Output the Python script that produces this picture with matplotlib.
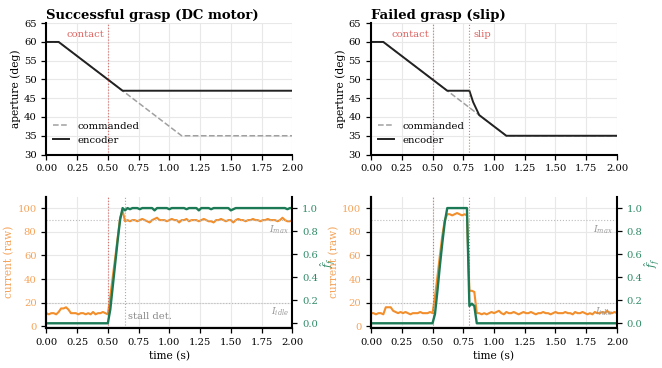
import numpy as np
import matplotlib
matplotlib.use("Agg")
import matplotlib.pyplot as plt

plt.rcParams["font.family"] = "DejaVu Serif"
plt.rcParams["mathtext.fontset"] = "dejavuserif"
plt.rcParams["font.size"] = 7.2

# aperture traces (breakpoints, s / deg)
cmd_t = [0.0, 0.1, 1.1, 2.0]
cmd_a = [60, 60, 35, 35]
enc_ok_t = [0.0, 0.1, 0.62, 2.0]
enc_ok_a = [60, 60, 47, 47]
enc_slip_t = [0.0, 0.1, 0.62, 0.80, 0.83, 0.88, 1.1, 2.0]
enc_slip_a = [60, 60, 47, 47, 44, 40.5, 35, 35]

# current / force estimate, sampled every 0.02 s
t = np.arange(101) * 0.02
cur_ok = [11, 10, 11, 11, 10, 12, 15, 15, 16, 14, 11, 11, 11, 10, 11, 11, 10, 11, 10, 12,
          10, 11, 11, 12, 11, 10, 25, 42, 58, 75, 92, 98, 89, 90, 89, 90, 90, 89, 90, 91,
          90, 89, 88, 90, 91, 92, 90, 90, 90, 89, 90, 91, 90, 90, 88, 90, 90, 91, 89, 90,
          90, 90, 89, 90, 91, 90, 89, 89, 88, 90, 90, 91, 90, 89, 90, 90, 88, 90, 91, 90,
          90, 89, 90, 90, 91, 90, 90, 89, 90, 90, 91, 90, 90, 90, 89, 90, 92, 90, 89, 89, 90]
ff_ok = [0.0] * 26 + [0.12, 0.32, 0.52, 0.72, 0.9, 1.0, 0.98,
         1.0, 0.99, 1.0, 1.0, 1.0, 0.99, 1.0, 1.0, 1.0, 1.0, 1.0, 0.98, 1.0, 1.0, 1.0,
         1.0, 1.0, 0.99, 1.0, 1.0, 1.0, 1.0, 1.0, 1.0, 0.99, 1.0, 1.0, 1.0, 1.0, 0.98,
         1.0, 1.0, 1.0, 1.0, 0.99, 1.0, 1.0, 1.0, 1.0, 1.0, 1.0, 1.0, 0.98, 0.99, 1.0,
         1.0, 1.0, 1.0, 1.0, 1.0, 1.0, 1.0, 1.0, 1.0, 1.0, 1.0, 1.0, 1.0, 1.0, 1.0,
         1.0, 1.0, 1.0, 1.0, 1.0, 0.99, 1.0, 1.0]
cur_slip = [11, 11, 10, 11, 11, 10, 16, 16, 16, 13, 12, 11, 12, 11, 12, 11, 10, 11, 11, 11,
            12, 11, 11, 11, 12, 11, 25, 42, 60, 77, 90, 95, 95, 94, 95, 96, 95, 94, 95, 94,
            30, 30, 29, 11, 11, 10, 11, 10, 11, 12, 11, 12, 13, 11, 10, 12, 11, 11, 12, 11,
            10, 11, 12, 11, 11, 12, 11, 10, 11, 11, 12, 11, 11, 10, 11, 12, 11, 11, 11, 12,
            11, 11, 10, 12, 11, 11, 12, 11, 10, 11, 10, 12, 11, 11, 12, 11, 13, 11, 11, 12, 11]
ff_slip = [0.0] * 26 + [0.08, 0.28, 0.5, 0.7, 0.88, 1.0, 1.0, 1.0, 1.0, 1.0, 1.0, 1.0,
           1.0, 1.0, 0.15, 0.17, 0.15, 0.0] + [0.0] * 57

I_max, I_idle = 90, 20
t_contact, t_stall, t_slip = 0.5, 0.642, 0.8

ORANGE = "#f28e2b"
ORANGE_TXT = "#f5a35a"
GREEN = "#1b7a55"
GREEN_TXT = "#2e8b66"
RED = "#d9534f"

fig, axs = plt.subplots(2, 2, figsize=(6.62, 3.68), dpi=100)
fig.subplots_adjust(left=0.07, right=0.932, top=0.937, bottom=0.109, hspace=0.32, wspace=0.32)


def style(ax):
    ax.grid(True, color="#e8e8e8", lw=0.8)
    ax.set_axisbelow(True)
    ax.tick_params(direction="out", length=3.5, width=0.9, pad=3.5)
    ax.set_xlim(0, 2.0)
    ax.set_xticks(np.arange(0, 2.01, 0.25))


for j, (enc_t, enc_a, title) in enumerate([(enc_ok_t, enc_ok_a, "Successful grasp (DC motor)"),
                                            (enc_slip_t, enc_slip_a, "Failed grasp (slip)")]):
    ax = axs[0, j]
    style(ax)
    ax.plot(cmd_t, cmd_a, "--", color="#a0a0a0", lw=1.1, label="commanded")
    ax.plot(enc_t, enc_a, "-", color="#222222", lw=1.4, label="encoder")
    ax.set_ylim(30, 65)
    ax.set_yticks(np.arange(30, 66, 5))
    ax.set_ylabel("aperture (deg)", fontsize=7.7, labelpad=2)
    ax.set_title(title, loc="left", fontweight="bold", fontsize=9.5, pad=3)
    for s in ["top", "right"]:
        ax.spines[s].set_visible(False)
    ax.axvline(t_contact, color=RED, ls=":", lw=0.8, alpha=0.8)
    ax.text(t_contact - 0.03, 62, "contact", color=RED, fontsize=7.2, ha="right", va="center", alpha=0.9)
    if j == 1:
        ax.axvline(t_slip, color=RED, ls=":", lw=0.8, alpha=0.8)
        ax.text(t_slip + 0.03, 62, "slip", color=RED, fontsize=7.2, ha="left", va="center", alpha=0.9)
    ax.legend(loc="lower left", frameon=False, fontsize=7.2, handlelength=1.6,
              borderaxespad=0.3, labelspacing=0.5, bbox_to_anchor=(0.0, 0.02))

for j, (cur, ff) in enumerate([(cur_ok, ff_ok), (cur_slip, ff_slip)]):
    ax = axs[1, j]
    style(ax)
    ax.plot(t, cur, color=ORANGE, lw=1.5)
    ax.set_ylim(-1.5, 110)
    ax.set_yticks(np.arange(0, 101, 20))
    ax.set_ylabel("current (raw)", color=ORANGE_TXT, fontsize=7.7, labelpad=2)
    ax.tick_params(axis="y", labelcolor=ORANGE_TXT)
    ax.set_xlabel("time (s)", fontsize=7.7, labelpad=3)
    ax.axhline(I_max, color="#bbbbbb", ls=":", lw=0.8)
    ax.axhline(I_idle, color="#bbbbbb", ls=":", lw=0.8)
    ax.text(1.97, I_max - 8, r"$I_{max}$", color="#999999", fontsize=6.8, ha="right", va="center")
    ax.text(1.97, I_idle - 8, r"$I_{idle}$", color="#999999", fontsize=6.8, ha="right", va="center")
    ax.axvline(t_contact, color=RED, ls=":", lw=0.8, alpha=0.8)
    if j == 0:
        ax.axvline(t_stall, color="#aaaaaa", ls=":", lw=0.8)
        ax.text(t_stall + 0.02, 8, "stall det.", color="#888888", fontsize=7.2, ha="left", va="center")
    else:
        ax.axvline(t_slip, color=RED, ls=":", lw=0.8, alpha=0.8)
    ax.spines["top"].set_visible(False)
    ax.spines["right"].set_visible(False)
    ax2 = ax.twinx()
    ax2.plot(t, ff, color=GREEN, lw=1.7)
    ax2.set_ylim(-0.04, 1.1)
    ax2.set_yticks(np.arange(0, 1.01, 0.2))
    ax2.set_ylabel(r"$\hat{f}_f$", color=GREEN_TXT, fontsize=8, labelpad=0)
    ax2.tick_params(direction="out", length=3.5, width=0.9, pad=3.5, labelcolor=GREEN_TXT)
    ax2.spines["top"].set_visible(False)
    ax2.spines["right"].set_linewidth(1.5)
    ax2.spines["left"].set_linewidth(1.5)

for ax in axs.flat:
    for s in ["left", "bottom"]:
        ax.spines[s].set_linewidth(1.5)

fig.savefig("out.png", dpi=100)
